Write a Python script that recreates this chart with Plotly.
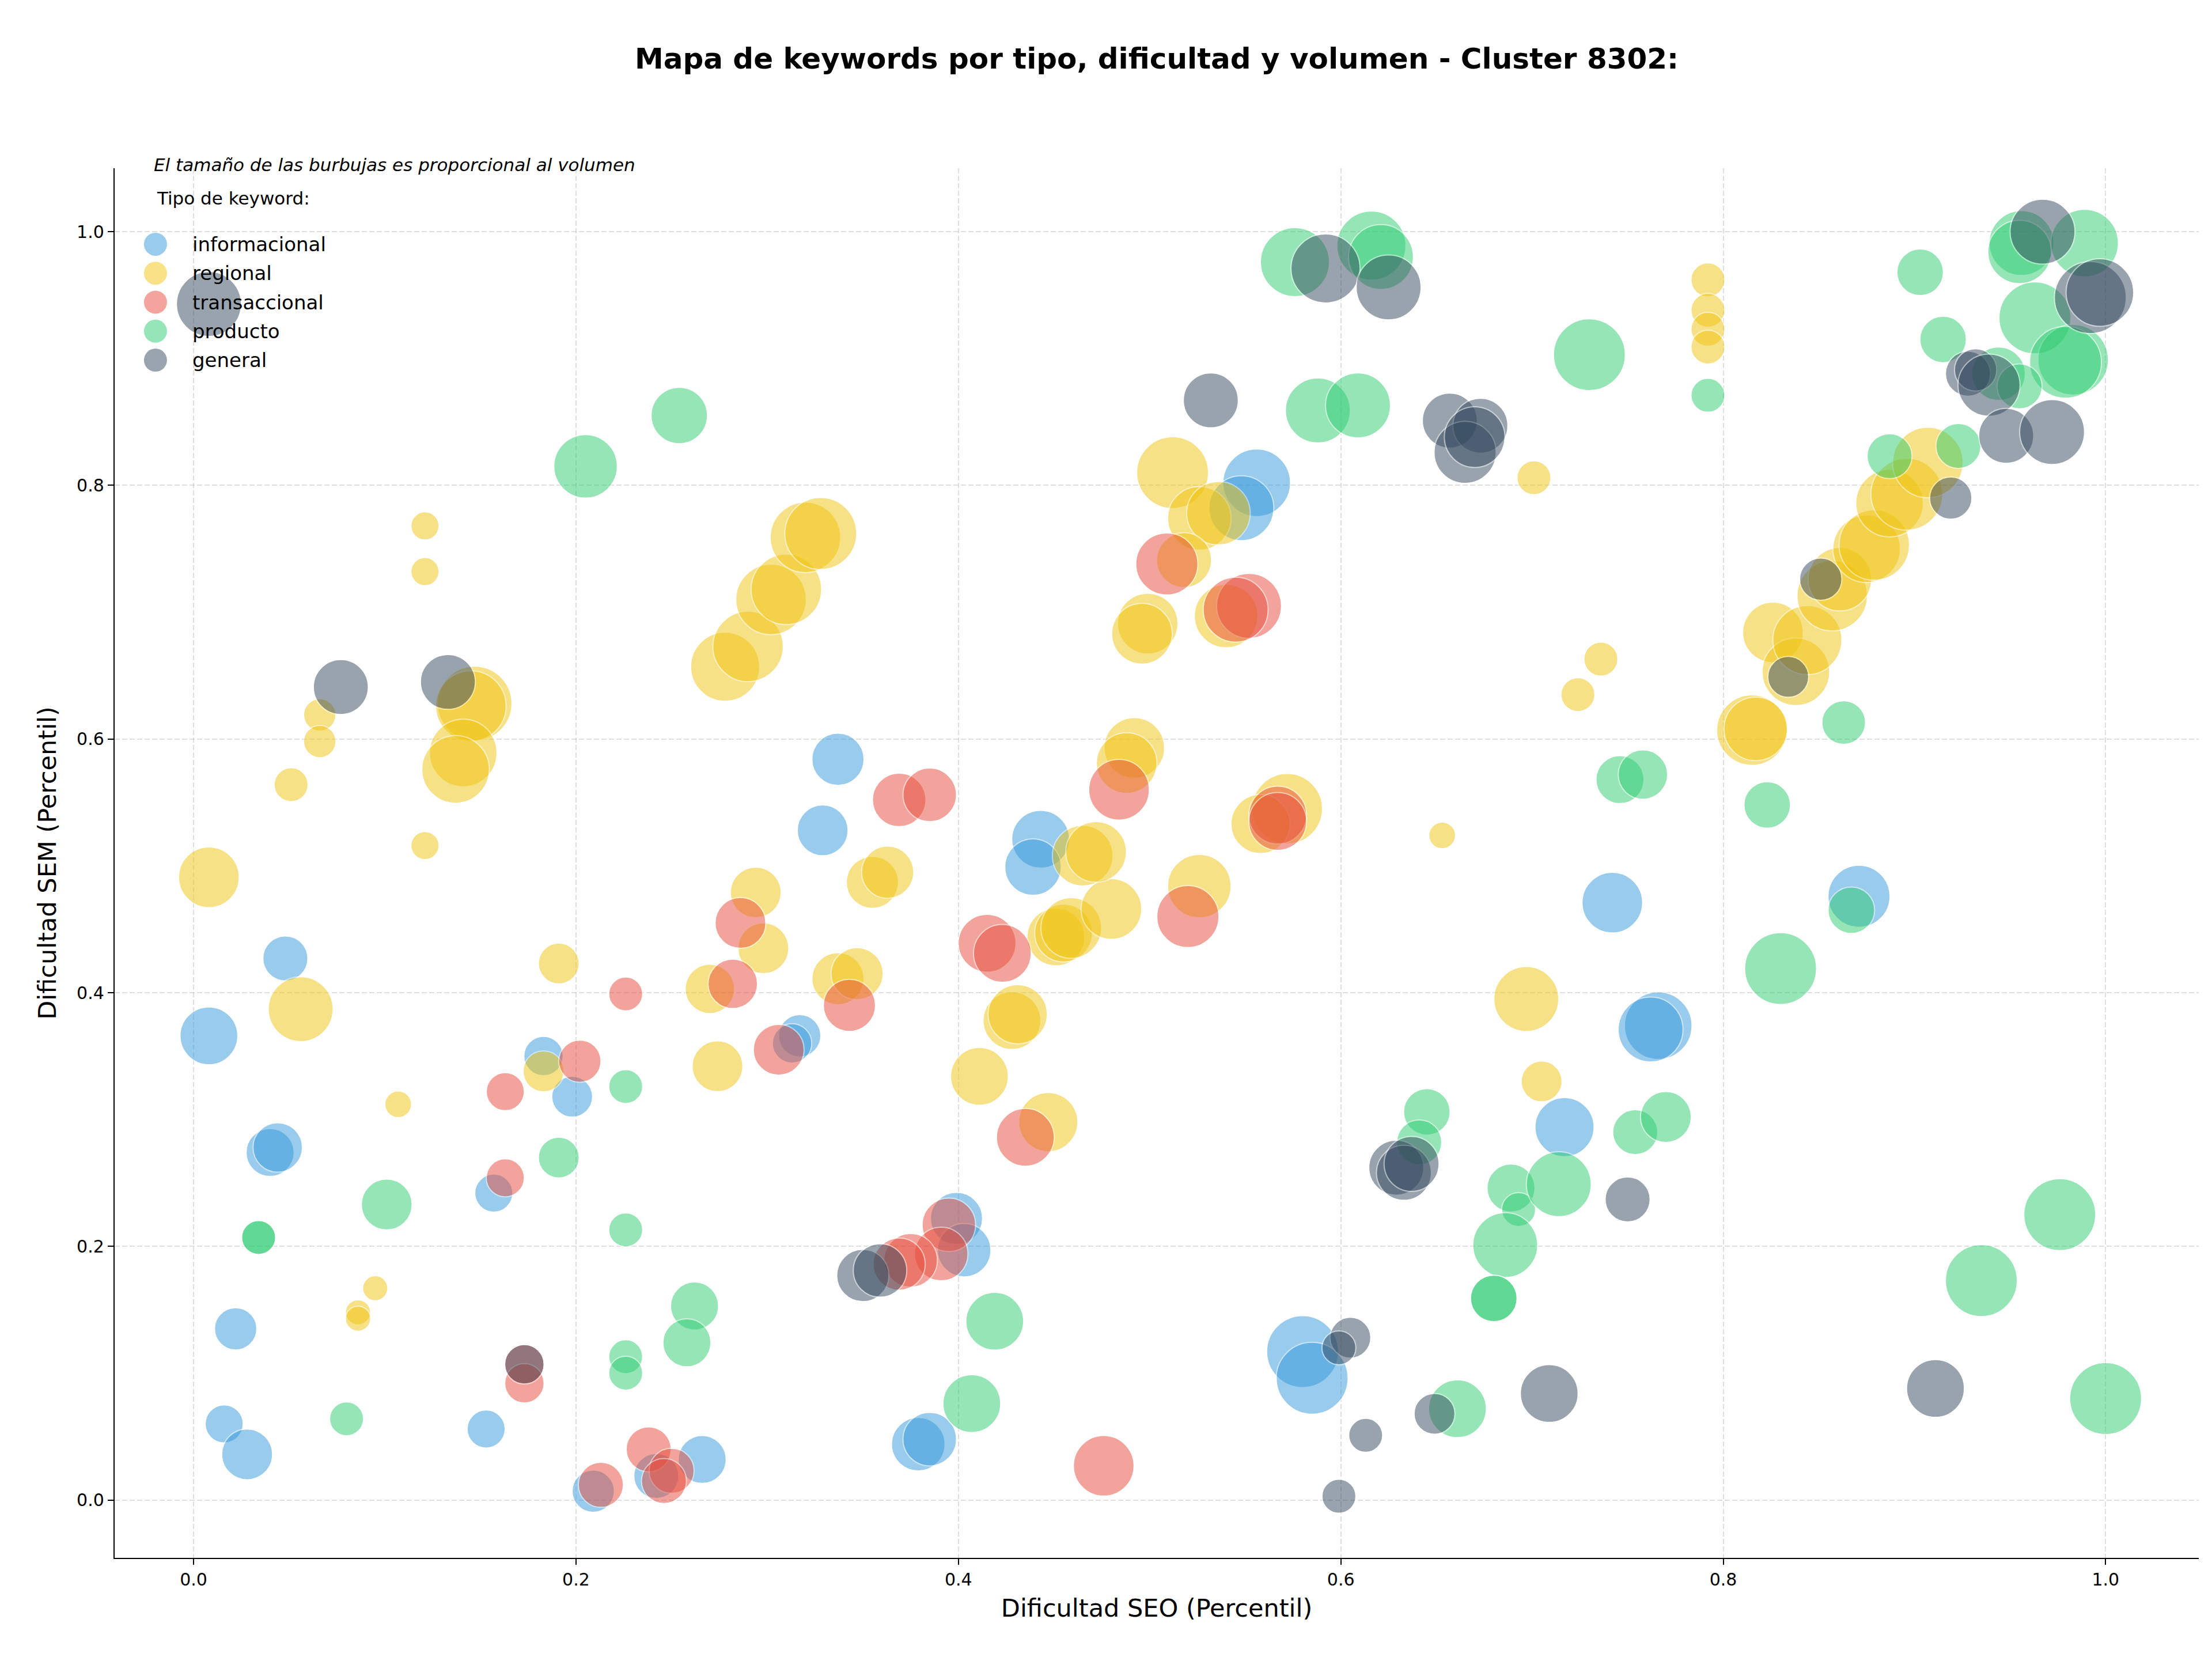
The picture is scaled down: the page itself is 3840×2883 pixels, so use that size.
import numpy as np
import plotly.graph_objects as go

# Datos: dificultad SEO (x), dificultad SEM (y), volumen (tamaño)
info_seo = [0.008, 0.048, 0.040, 0.044, 0.022, 0.016, 0.028, 0.153, 0.157, 0.183, 0.198, 0.209,
            0.242, 0.266, 0.317, 0.313, 0.337, 0.329, 0.443, 0.439, 0.556, 0.548, 0.399, 0.403,
            0.379, 0.385, 0.580, 0.585, 0.742, 0.871, 0.766, 0.762, 0.717]
info_sem = [0.366, 0.427, 0.274, 0.278, 0.135, 0.060, 0.036, 0.056, 0.242, 0.350, 0.318, 0.007,
            0.019, 0.032, 0.366, 0.360, 0.584, 0.528, 0.521, 0.499, 0.802, 0.782, 0.222, 0.197,
            0.044, 0.048, 0.117, 0.096, 0.471, 0.476, 0.374, 0.371, 0.294]
info_vol = [16800, 10200, 11600, 12300, 9000, 7300, 13000, 7300, 7300, 7800, 8400, 9000,
            10200, 11600, 9000, 7800, 13700, 13000, 16800, 16000, 23000, 21200, 13700, 14400,
            14400, 14400, 26000, 26000, 18500, 19400, 23000, 21200, 17600]

reg_seo = [0.121, 0.121, 0.066, 0.066, 0.051, 0.121, 0.008, 0.147, 0.145, 0.141, 0.137, 0.278,
           0.290, 0.302, 0.310, 0.320, 0.328, 0.056, 0.191, 0.107, 0.086, 0.086, 0.095, 0.183,
           0.294, 0.298, 0.270, 0.274, 0.337, 0.347, 0.355, 0.363, 0.411, 0.447, 0.428, 0.431,
           0.451, 0.455, 0.459, 0.480, 0.526, 0.492, 0.488, 0.465, 0.472, 0.512, 0.526, 0.536,
           0.518, 0.499, 0.496, 0.540, 0.572, 0.558, 0.653, 0.792, 0.792, 0.792, 0.792, 0.701,
           0.736, 0.724, 0.815, 0.817, 0.826, 0.838, 0.844, 0.857, 0.861, 0.875, 0.879, 0.887,
           0.896, 0.907, 0.697, 0.705]
reg_sem = [0.768, 0.732, 0.619, 0.598, 0.564, 0.516, 0.491, 0.628, 0.626, 0.589, 0.576, 0.657,
           0.673, 0.710, 0.718, 0.759, 0.762, 0.387, 0.423, 0.312, 0.148, 0.143, 0.167, 0.338,
           0.479, 0.435, 0.403, 0.342, 0.411, 0.415, 0.487, 0.495, 0.334, 0.298, 0.378, 0.383,
           0.444, 0.447, 0.451, 0.466, 0.484, 0.593, 0.581, 0.508, 0.511, 0.810, 0.774, 0.778,
           0.741, 0.691, 0.683, 0.697, 0.545, 0.533, 0.524, 0.962, 0.938, 0.923, 0.909, 0.806,
           0.663, 0.635, 0.607, 0.608, 0.684, 0.653, 0.678, 0.713, 0.726, 0.750, 0.753, 0.786,
           0.793, 0.818, 0.395, 0.330]
reg_vol = [4000, 4000, 5300, 5300, 5800, 4000, 18500, 28000, 25000, 23000, 23000, 24000,
           25000, 25000, 25000, 25000, 26000, 21200, 8400, 3600, 3200, 3200, 3200, 8400,
           13000, 13000, 12300, 13000, 13700, 13700, 13700, 13700, 16800, 17600, 16800, 17600,
           16800, 16800, 18500, 18500, 20300, 18500, 18500, 18500, 18500, 26000, 20300, 20300,
           15200, 18500, 18500, 20300, 25000, 17600, 3600, 5800, 5800, 5800, 5800, 5800,
           5800, 5800, 25000, 20300, 18500, 23000, 24000, 25000, 20300, 23000, 25000, 23000,
           26000, 25000, 21200, 8400]

trans_seo = [0.226, 0.163, 0.202, 0.163, 0.173, 0.173, 0.238, 0.250, 0.246, 0.213, 0.286, 0.282,
             0.306, 0.343, 0.415, 0.423, 0.435, 0.520, 0.395, 0.391, 0.375, 0.369, 0.476, 0.509,
             0.552, 0.545, 0.567, 0.567, 0.484, 0.369, 0.385]
trans_sem = [0.399, 0.322, 0.346, 0.254, 0.107, 0.092, 0.040, 0.023, 0.015, 0.012, 0.455, 0.407,
             0.355, 0.390, 0.439, 0.431, 0.286, 0.460, 0.217, 0.194, 0.189, 0.186, 0.027, 0.738,
             0.705, 0.702, 0.540, 0.535, 0.560, 0.552, 0.556]
trans_vol = [5800, 7300, 9000, 7300, 7800, 7800, 10200, 10200, 10200, 10200, 13000, 12300,
             13000, 13700, 16800, 16800, 16800, 19400, 14400, 14400, 14400, 13700, 18500, 19400,
             21200, 21200, 16800, 16800, 18500, 14400, 14400]

prod_seo = [0.254, 0.205, 0.034, 0.034, 0.101, 0.191, 0.226, 0.226, 0.080, 0.226, 0.226, 0.262,
            0.258, 0.419, 0.407, 0.661, 0.645, 0.641, 0.689, 0.693, 0.686, 0.680, 0.680, 0.714,
            0.754, 0.770, 0.830, 0.867, 0.976, 0.935, 1.000, 0.730, 0.792, 0.903, 0.915, 0.887,
            0.923, 0.863, 0.746, 0.758, 0.823, 0.956, 0.955, 0.989, 0.963, 0.983, 0.979, 0.944,
            0.955, 0.576, 0.616, 0.621, 0.588, 0.609]
prod_sem = [0.855, 0.815, 0.207, 0.207, 0.233, 0.270, 0.326, 0.213, 0.064, 0.113, 0.100, 0.153,
            0.124, 0.141, 0.076, 0.072, 0.306, 0.282, 0.246, 0.229, 0.201, 0.159, 0.159, 0.249,
            0.290, 0.302, 0.419, 0.465, 0.225, 0.173, 0.080, 0.903, 0.871, 0.968, 0.915, 0.823,
            0.831, 0.613, 0.568, 0.572, 0.548, 0.991, 0.984, 0.991, 0.932, 0.899, 0.897, 0.888,
            0.878, 0.976, 0.989, 0.980, 0.859, 0.863]
prod_vol = [16000, 20300, 5800, 5800, 13000, 8400, 5800, 5800, 5800, 5800, 5800, 11600,
            11600, 16800, 16800, 16800, 10900, 10200, 11600, 5800, 21200, 10900, 10900, 21200,
            10200, 13000, 26000, 10900, 26000, 26000, 26000, 26000, 5800, 10900, 10900, 10200,
            10200, 9600, 11600, 12300, 10900, 21200, 20300, 23000, 26000, 25000, 26000, 14400,
            10200, 24000, 24000, 21200, 21200, 21200]

gen_seo = [0.008, 0.077, 0.133, 0.592, 0.625, 0.532, 0.657, 0.673, 0.665, 0.670, 0.967, 0.992,
           0.997, 0.928, 0.932, 0.939, 0.948, 0.972, 0.919, 0.851, 0.834, 0.350, 0.359, 0.605,
           0.599, 0.613, 0.599, 0.649, 0.629, 0.633, 0.637, 0.750, 0.709, 0.911, 0.173]
gen_sem = [0.943, 0.641, 0.645, 0.971, 0.956, 0.867, 0.851, 0.847, 0.826, 0.838, 1.000, 0.948,
           0.952, 0.888, 0.891, 0.879, 0.839, 0.842, 0.790, 0.726, 0.649, 0.177, 0.181, 0.128,
           0.120, 0.051, 0.003, 0.068, 0.262, 0.258, 0.265, 0.237, 0.084, 0.088, 0.107]
gen_vol = [21200, 15200, 15200, 24000, 21200, 15200, 15200, 15200, 19400, 18500, 21200, 26000,
           23000, 10200, 9000, 19400, 15200, 21200, 9000, 9000, 8400, 13700, 14400, 8400,
           5800, 5800, 5800, 8400, 15200, 15200, 15200, 10200, 16800, 16800, 7800]

tipos = ['informacional', 'regional', 'transaccional', 'producto', 'general']
colores = ['#3498DB', '#F1C40F', '#E74C3C', '#2ECC71', '#34495E']
series = [
    (info_seo, info_sem, info_vol),
    (reg_seo, reg_sem, reg_vol),
    (trans_seo, trans_sem, trans_vol),
    (prod_seo, prod_sem, prod_vol),
    (gen_seo, gen_sem, gen_vol),
]

FONT = 'DejaVu Sans'
ESCALA = 2.449 / np.sqrt(10)  # diametro en px por raiz del volumen

fig = go.Figure()
for tipo, color, (sx, sy, vol) in zip(tipos, colores, series):
    fig.add_trace(go.Scatter(
        x=sx, y=sy,
        mode='markers',
        name=tipo,
        showlegend=False,
        marker=dict(
            size=ESCALA * np.sqrt(np.array(vol)),
            sizemode='diameter',
            color=color,
            opacity=0.5,
            line=dict(color='white', width=2),
        ),
    ))

eje = dict(
    showline=True, linecolor='black', linewidth=2.4,
    ticks='outside', ticklen=10, tickwidth=2.4, tickcolor='black',
    tickfont=dict(size=30, color='black', family=FONT),
    tickformat='.1f', dtick=0.2, tick0=0,
    showgrid=True, gridcolor='rgba(176,176,176,0.4)', gridwidth=2, griddash='9px,4px',
    zeroline=False, mirror=False,
)

fig.update_layout(
    width=3840, height=2883,
    paper_bgcolor='white', plot_bgcolor='white',
    font=dict(family=FONT, color='black'),
    margin=dict(l=191, r=31, t=284, b=187),
    title=dict(
        text='<b>Mapa de keywords por tipo, dificultad y volumen - Cluster 8302:</b>',
        font=dict(size=50, family=FONT, color='black'),
        x=0.5, xref='paper', xanchor='center', y=0.9677, yanchor='middle',
    ),
    xaxis=dict(**eje, range=[-0.0413, 1.0487],
               title=dict(text='Dificultad SEO (Percentil)', font=dict(size=43), standoff=18)),
    yaxis=dict(**eje, range=[-0.0456, 1.050],
               title=dict(text='Dificultad SEM (Percentil)', font=dict(size=43), standoff=22)),
    showlegend=False,
)

fig.add_annotation(
    text='<i>El tamaño de las burbujas es proporcional al volumen</i>',
    xref='paper', yref='paper', x=0.0182, y=1.0025,
    xanchor='left', yanchor='middle', showarrow=False,
    font=dict(size=31, family=FONT, color='black'),
)

# Leyenda al estilo matplotlib (esquina superior izquierda)
fig.add_annotation(
    text='Tipo de keyword:',
    xref='paper', yref='paper', x=0.0196, y=0.9786,
    xanchor='left', yanchor='middle', showarrow=False,
    font=dict(size=31, family=FONT, color='black'),
)
for i, (tipo, color) in enumerate(zip(tipos, colores)):
    fila = 0.9453 - i * 0.02085
    fig.add_shape(
        type='circle', xref='paper', yref='paper',
        xsizemode='pixel', ysizemode='pixel',
        xanchor=0.0196, yanchor=fila,
        x0=-20, x1=20, y0=-20, y1=20,
        fillcolor=color, opacity=0.5, line=dict(width=0),
    )
    fig.add_annotation(
        text=tipo,
        xref='paper', yref='paper', x=0.0368, y=fila,
        xanchor='left', yanchor='middle', showarrow=False,
        font=dict(size=34, family=FONT, color='black'),
    )

fig.write_html('out.html')
